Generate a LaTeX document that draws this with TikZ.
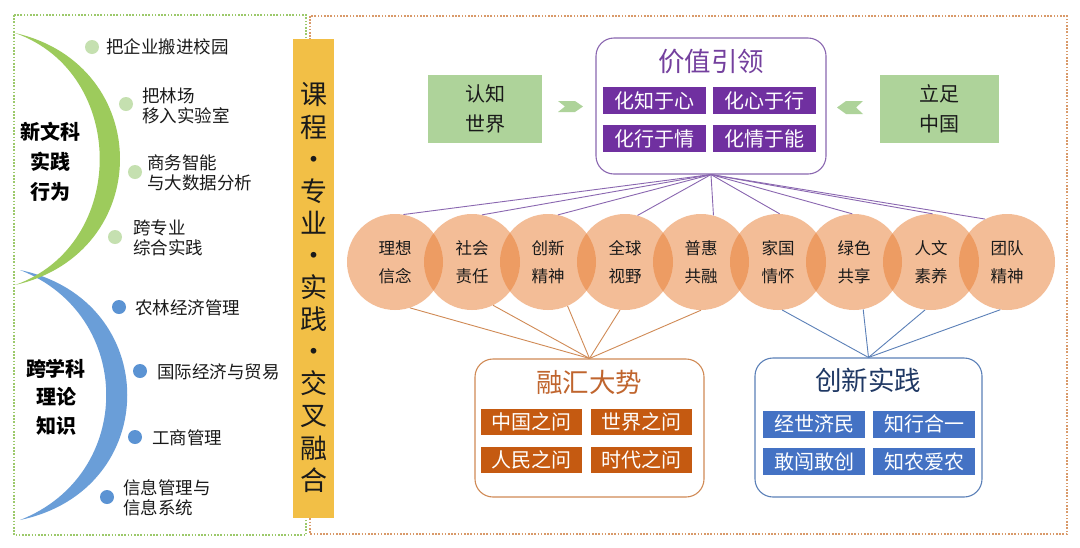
\documentclass[tikz,border=0pt]{standalone}
\usepackage{fontspec}
\setmainfont{Noto Sans CJK SC}
\definecolor{gArc}{HTML}{9DCB5C}
\definecolor{bArc}{HTML}{6A9ED8}
\definecolor{gDot}{HTML}{C5E0B0}
\definecolor{bDot}{HTML}{5B93D3}
\definecolor{barC}{HTML}{F2BF46}
\definecolor{gBox}{HTML}{AED39A}
\definecolor{pur}{HTML}{7030A0}
\definecolor{purT}{HTML}{74409E}
\definecolor{purL}{HTML}{8A67B0}
\definecolor{orT}{HTML}{C55A11}
\definecolor{orTitle}{HTML}{C0652E}
\definecolor{orL}{HTML}{D08A55}
\definecolor{blT}{HTML}{4472C4}
\definecolor{blL}{HTML}{5B80B8}
\definecolor{navy}{HTML}{1F3864}
\definecolor{peach}{HTML}{E97D31}
\definecolor{gDotted}{HTML}{9CC96B}
\definecolor{oDotted}{HTML}{D99A6A}
\definecolor{ink}{HTML}{1A1A1A}
\begin{document}
\begin{tikzpicture}[x=1pt,y=-1pt,
  tile/.style={fill=#1, text=white, minimum width=102, minimum height=27, inner sep=0, font=\fontsize{20}{20}\selectfont},
  item/.style={anchor=west, align=left, inner sep=0, text=ink, font=\fontsize{17.5}{20}\selectfont},
  headlbl/.style={align=center, inner sep=0, text=black, font=\bfseries\fontsize{20}{30}\selectfont},
  gdot/.style={circle, fill=gDot, minimum size=14, inner sep=0},
  bdot/.style={circle, fill=bDot, minimum size=14, inner sep=0},
  valcirc/.style={circle, fill=peach, fill opacity=0.5, text opacity=1, minimum size=96, inner sep=0, align=center, text=ink, font=\fontsize{16.5}{28}\selectfont},
  gbox/.style={fill=gBox, minimum width=#1, minimum height=68, inner sep=0, align=center, text=ink, font=\fontsize{20}{30}\selectfont},
  bigbox/.style={draw=#1, line width=1.1pt, rounded corners=18, fill=white, inner sep=0},
  ttl/.style={inner sep=0, font=\fontsize{26.5}{30}\selectfont},
  link/.style={line width=0.9pt}
]
\useasboundingbox (0,0) rectangle (1080,547);
\fill[white] (0,0) rectangle (1080,547);

% dotted frames
\draw[gDotted, line width=1.6pt, dash pattern=on 1.6pt off 1.6pt] (14,15) rectangle (306,535);
\draw[oDotted, line width=1.6pt, dash pattern=on 1.6pt off 1.6pt] (310,16) rectangle (1067,534);

% crescents
\fill[bArc] (20,270) .. controls (163,300) and (163,490) .. (20,520)
            .. controls (135,475) and (135,315) .. (20,270) -- cycle;
\fill[gArc] (15,33) .. controls (155,65) and (155,253) .. (15,285)
            .. controls (128,245) and (128,73) .. (15,33) -- cycle;

% left labels
\node[headlbl] (xwk) at (50,162) {新文科\\实践\\行为};
\node[headlbl, font=\bfseries\fontsize{20}{28.5}\selectfont] (kxk) at (56,397) {跨学科\\理论\\知识};

\node[gdot] (gd1) at (92,47) {};
\node[gdot] (gd2) at (126,104) {};
\node[gdot] (gd3) at (135,172) {};
\node[gdot] (gd4) at (115,237) {};
\node[item] (gt1) at (106,47) {把企业搬进校园};
\node[item] (gt2) at (142,105.5) {把林场\\移入实验室};
\node[item] (gt3) at (147,173) {商务智能\\与大数据分析};
\node[item] (gt4) at (133,238) {跨专业\\综合实践};

\node[bdot] (bd1) at (119,307) {};
\node[bdot] (bd2) at (140,371) {};
\node[bdot] (bd3) at (135,437) {};
\node[bdot] (bd4) at (107,497) {};
\node[item] (bt1) at (135,308) {农林经济管理};
\node[item] (bt2) at (157,372) {国际经济与贸易};
\node[item] (bt3) at (152,438) {工商管理};
\node[item] (bt4) at (123,498) {信息管理与\\信息系统};

% column bar
\fill[barC] (293,39) rectangle (334,518);
\node[align=center, inner sep=0, text=ink, font=\fontsize{27}{32.1}\selectfont] (bar) at (313.5,287.5)
  {课\\程\\·\\专\\业\\·\\实\\践\\·\\交\\叉\\融\\合};

% side boxes and chevrons
\node[gbox=114] (rzsj) at (485,109) {认知\\世界};
\node[gbox=119] (lzzg) at (939.5,109) {立足\\中国};
\fill[gBox] (558,101) -- (575,101) -- (583,106.5) -- (575,112) -- (558,112) -- (565,106.5) -- cycle;
\fill[gBox] (863,101) -- (846,101) -- (837,107.5) -- (846,114) -- (863,114) -- (856,107.5) -- cycle;

% value box
\node[bigbox=purL, minimum width=230, minimum height=136] (vbox) at (711,106) {};
\node[ttl, text=purT] (vttl) at (711,62) {价值引领};
\node[tile=pur, minimum width=103] (v1) at (654.5,100.5) {化知于心};
\node[tile=pur, minimum width=103] (v2) at (764.5,100.5) {化心于行};
\node[tile=pur, minimum width=103] (v3) at (654.5,138.5) {化行于情};
\node[tile=pur, minimum width=103] (v4) at (764.5,138.5) {化情于能};

% bottom boxes
\node[bigbox=orL, minimum width=229, minimum height=138] (rbox) at (589.5,428) {};
\node[ttl, text=orTitle] (rttl) at (589,382) {融汇大势};
\node[tile=orT, minimum width=101, minimum height=26] (r1) at (531.5,422) {中国之问};
\node[tile=orT, minimum width=101, minimum height=26] (r2) at (641,422) {世界之问};
\node[tile=orT, minimum width=101, minimum height=26] (r3) at (531.5,460) {人民之问};
\node[tile=orT, minimum width=101, minimum height=26] (r4) at (641,460) {时代之问};

\node[bigbox=blL, minimum width=227, minimum height=139] (cbox) at (868.5,427.5) {};
\node[ttl, text=navy] (cttl) at (868,380) {创新实践};
\node[tile=blT] (b1) at (814,424) {经世济民};
\node[tile=blT] (b2) at (924,424) {知行合一};
\node[tile=blT] (b3) at (814,461.5) {敢闯敢创};
\node[tile=blT] (b4) at (924,461.5) {知农爱农};

% circles
\node[valcirc] (c1) at (395,262) {理想\\信念};
\node[valcirc] (c2) at (472,262) {社会\\责任};
\node[valcirc] (c3) at (548,262) {创新\\精神};
\node[valcirc] (c4) at (625,262) {全球\\视野};
\node[valcirc] (c5) at (701,262) {普惠\\共融};
\node[valcirc] (c6) at (778,262) {家国\\情怀};
\node[valcirc] (c7) at (854,262) {绿色\\共享};
\node[valcirc] (c8) at (931,262) {人文\\素养};
\node[valcirc] (c9) at (1007,262) {团队\\精神};

% connectors
\coordinate (vhub) at (vbox.south);
\coordinate (rhub) at (rbox.north);
\coordinate (chub) at (cbox.north);
\draw[link, purL] (vhub) -- (c1.80);
\draw[link, purL] (vhub) -- (c2.78);
\draw[link, purL] (vhub) -- (c3.78);
\draw[link, purL] (vhub) -- (c4.75);
\draw[link, purL] (vhub) -- (c5.75);
\draw[link, purL] (vhub) -- (c6.88);
\draw[link, purL] (vhub) -- (c7.92);
\draw[link, purL] (vhub) -- (c8.88);
\draw[link, purL] (vhub) -- (c9.117);

\draw[link, orL] (rhub) -- (c1.-72);
\draw[link, orL] (rhub) -- (c2.-64);
\draw[link, orL] (rhub) -- (c3.-66);
\draw[link, orL] (rhub) -- (c4.-96);
\draw[link, orL] (rhub) -- (c5.-90);

\draw[link, blL] (chub) -- (c6.-85);
\draw[link, blL] (chub) -- (c7.-79);
\draw[link, blL] (chub) -- (c8.-97);
\draw[link, blL] (chub) -- (c9.-98);
\end{tikzpicture}
\end{document}
